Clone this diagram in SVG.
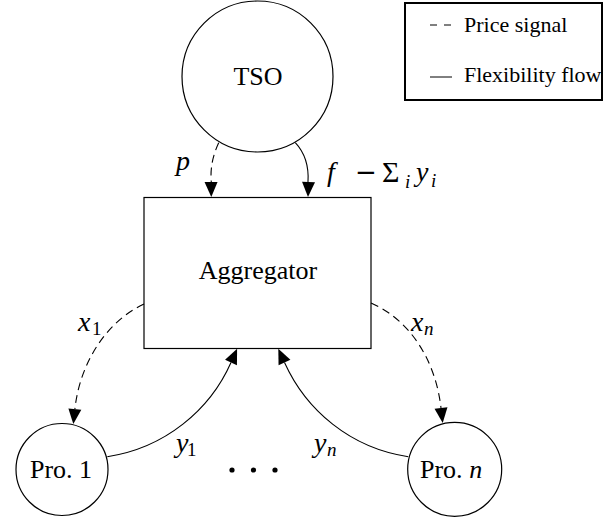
<svg xmlns="http://www.w3.org/2000/svg" width="616" height="518" viewBox="0 0 616 518">
<style>
  .shape { fill: #fff; stroke: #000; stroke-width: 1.2; }
  .edge { fill: none; stroke: #000; stroke-width: 1.1; }
  .dash { stroke-dasharray: 8 5; }
  .tip { fill: #000; }
</style>
<defs>
  <path id="ah" d="M-15,-6.5 L0,0 L-15,6.5 z"/>
</defs>

<g id="legend">
  <rect x="405" y="3" width="197" height="97" fill="#fff" stroke="#000" stroke-width="2"/>
  <line x1="430" y1="25" x2="452" y2="25" stroke="#000" stroke-width="1" stroke-dasharray="7 7"/>
  <text x="464" y="32" font-family="Times New Roman, Liberation Serif, serif" font-size="22">Price signal</text>
  <line x1="430" y1="77" x2="452" y2="77" stroke="#000" stroke-width="1"/>
  <text x="464" y="82" font-family="Times New Roman, Liberation Serif, serif" font-size="22">Flexibility flow</text>
</g>

<g id="tso">
  <circle cx="257.5" cy="76.5" r="75.5" fill="#fff" stroke="#000" stroke-width="1.2"/>
  <text x="258" y="85" text-anchor="middle" font-family="Times New Roman, Liberation Serif, serif" font-size="26">TSO</text>
</g>

<g id="aggregator">
  <rect x="144" y="197.5" width="227" height="151" fill="#fff" stroke="#000" stroke-width="1.2"/>
  <text x="258" y="279" text-anchor="middle" font-family="Times New Roman, Liberation Serif, serif" font-size="26">Aggregator</text>
</g>

<g id="pro1">
  <circle cx="62" cy="469.5" r="46" fill="#fff" stroke="#000" stroke-width="1.2"/>
  <text x="61" y="478" text-anchor="middle" font-family="Times New Roman, Liberation Serif, serif" font-size="26">Pro. 1</text>
</g>

<g id="pron">
  <circle cx="454.7" cy="469.3" r="47" fill="#fff" stroke="#000" stroke-width="1.2"/>
  <text x="420" y="478" font-family="Times New Roman, Liberation Serif, serif" font-size="26">Pro. <tspan font-style="italic">n</tspan></text>
</g>

<g id="dots">
  <circle cx="232" cy="470" r="2.6" fill="#000"/>
  <circle cx="253.5" cy="470" r="2.6" fill="#000"/>
  <circle cx="275" cy="470" r="2.6" fill="#000"/>
</g>

<g id="labels" font-family="Times New Roman, Liberation Serif, serif">
  <text x="176" y="170" font-size="28" font-style="italic">p</text>
  <text x="327" y="181" font-size="28" font-style="italic">f</text>
  <text x="355" y="181" font-family="DejaVu Sans, sans-serif" font-size="26">−</text>
  <text x="382" y="182" font-size="30">Σ</text>
  <text x="405" y="188" font-size="19" font-style="italic">i</text>
  <text x="416" y="181" font-size="28" font-style="italic">y</text>
  <text x="431" y="187" font-size="19" font-style="italic">i</text>

  <text x="78" y="331" font-size="28" font-style="italic">x</text>
  <text x="92" y="335" font-size="19">1</text>
  <text x="411" y="331" font-size="28" font-style="italic">x</text>
  <text x="424" y="335" font-size="19" font-style="italic">n</text>

  <text x="176" y="452" font-size="28" font-style="italic">y</text>
  <text x="187" y="456" font-size="19">1</text>
  <text x="314" y="452" font-size="28" font-style="italic">y</text>
  <text x="327" y="456" font-size="19" font-style="italic">n</text>
</g>

<g id="connectors">
  <path class="edge dash" d="M218.7,142.7 C213,155 210,168 211.3,182"/>
  <use href="#ah" class="tip" transform="translate(211.3,197) rotate(89)"/>
  <path class="edge" d="M295.3,142.7 C304,152 309,166 308,182"/>
  <use href="#ah" class="tip" transform="translate(308,197) rotate(92)"/>
  <path class="edge dash" d="M144,304 C105,322 79.6,365 74.9,409"/>
  <use href="#ah" class="tip" transform="translate(73.3,424) rotate(96)"/>
  <path class="edge dash" d="M371,303 C410,320 435.5,360 441,408"/>
  <use href="#ah" class="tip" transform="translate(442.7,423) rotate(83.5)"/>
  <path class="edge" d="M107.3,456.7 C165,448 210,410 231,362.5"/>
  <use href="#ah" class="tip" transform="translate(237.1,348.8) rotate(-66)"/>
  <path class="edge" d="M408.3,456.7 C350,448 306,410 284.5,362.5"/>
  <use href="#ah" class="tip" transform="translate(278.3,348.8) rotate(-114.4)"/>
</g>
</svg>
